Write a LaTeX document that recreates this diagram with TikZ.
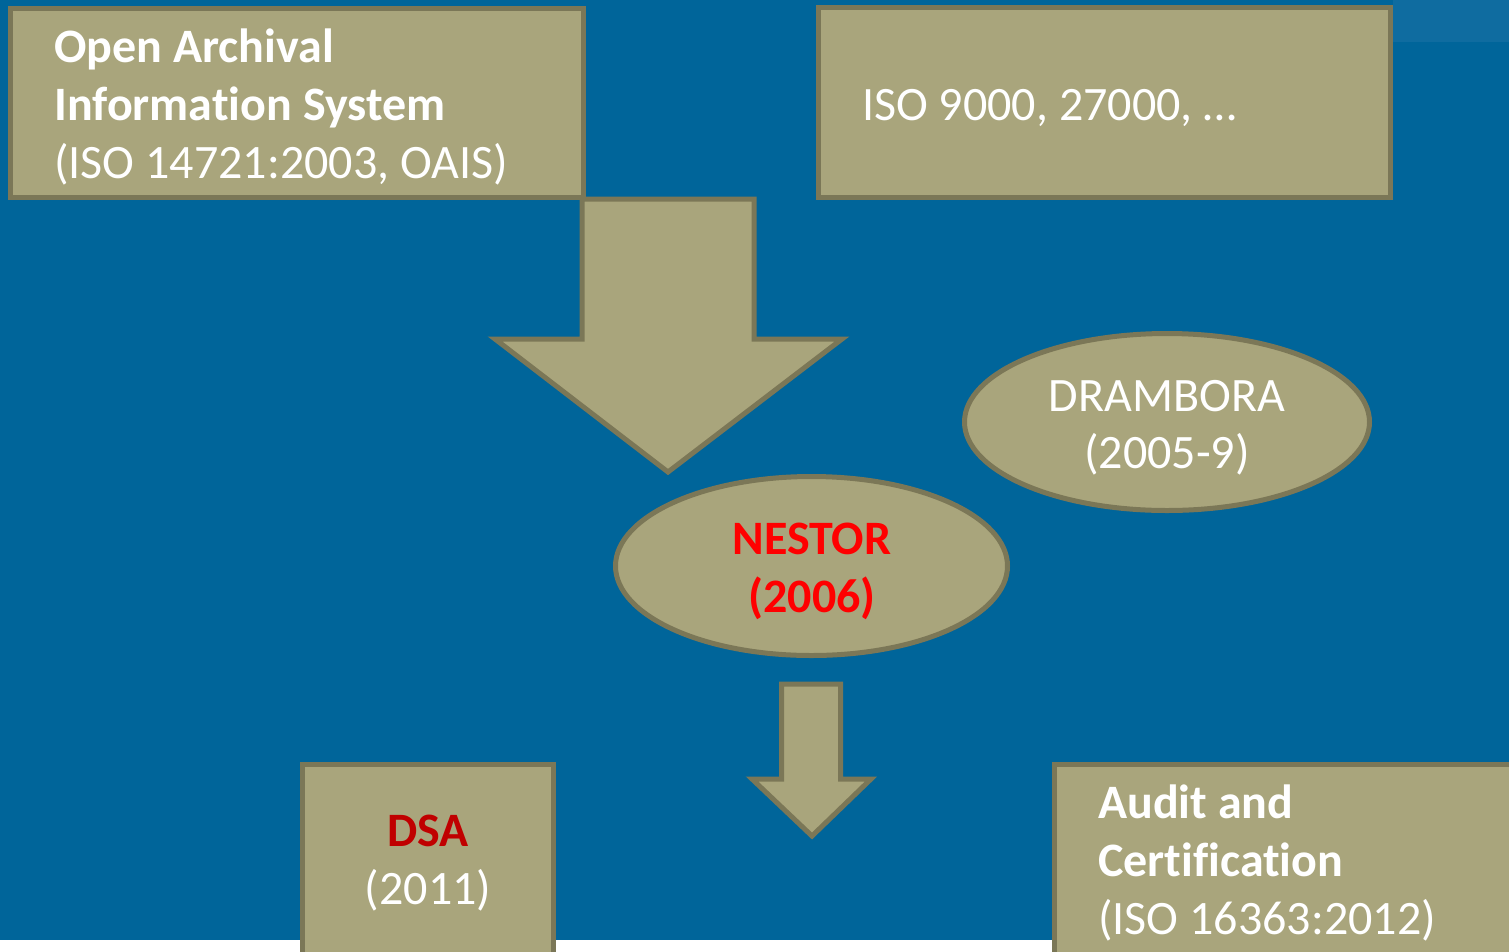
\documentclass[tikz,border=0pt]{standalone}
\usepackage{fontspec}
\setmainfont{Carlito}[Ligatures=CommonOff]
\usetikzlibrary{shapes.geometric}
\definecolor{bgblue}{HTML}{00659A}
\definecolor{bgstrip}{HTML}{0F6CA0}
\definecolor{boxfill}{HTML}{A9A57C}
\definecolor{boxline}{HTML}{7B7757}
\definecolor{nestorred}{HTML}{FF0000}
\definecolor{dsared}{HTML}{C00000}
\begin{document}
\begin{tikzpicture}[x=1pt,y=-1pt,
  blockshape/.style={fill=boxfill,draw=boxline,line width=5pt},
  boxnode/.style={blockshape,rectangle,inner sep=0pt,anchor=north west},
  txt/.style={text=white,font=\fontsize{48}{58}\selectfont,inner sep=0pt},
  txtb/.style={txt,font=\fontsize{48}{58}\selectfont\bfseries}]
\useasboundingbox (0,0) rectangle (1509,951);
\fill[white] (0,0) rectangle (1509,951);
\fill[bgblue] (0,0) rectangle (1509,940);
\fill[bgstrip] (1393,0) rectangle (1509,42);
% boxes
\node[boxnode,minimum width=573pt,minimum height=189pt] (oais) at (8,6) {};
\node[boxnode,minimum width=572pt,minimum height=190pt] (iso) at (816,5) {};
\node[boxnode,minimum width=251pt,minimum height=200pt] (dsa) at (300,762) {};
\node[boxnode,minimum width=470pt,minimum height=200pt] (audit) at (1052,762) {};
% big arrow
\draw[blockshape,line join=miter] (582,199) -- (754,199) -- (754,339) -- (842,339) -- (668,472) -- (495,339) -- (582,339) -- cycle;
% ellipses
\node[blockshape,ellipse,minimum width=405pt,minimum height=177pt,inner sep=0pt] (drambora) at (1167,422) {};
\node[blockshape,ellipse,minimum width=392pt,minimum height=179pt,inner sep=0pt] (nestor) at (811.5,566) {};
% small arrow
\draw[blockshape,line join=miter] (781.5,684) -- (840.5,684) -- (840.5,779) -- (871,779) -- (812,836) -- (752,779) -- (781.5,779) -- cycle;
% texts
\node[txtb,anchor=base west] (t1) at (54,62) {Open Archival};
\node[txtb,anchor=base west] (t2) at (54,120) {Information System};
\node[txt,anchor=base west] (t3) at (54,178) {(ISO 14721:2003, OAIS)};
\node[txt,anchor=base west] (t4) at (862,120) {ISO 9000, 27000, …};
\node[txt,anchor=base] (t5) at (1167,411) {DRAMBORA};
\node[txt,anchor=base] (t6) at (1167,468) {(2005-9)};
\node[txtb,anchor=base,text=nestorred] (t7) at (812,554) {NESTOR};
\node[txtb,anchor=base,text=nestorred] (t8) at (812,612) {(2006)};
\node[txtb,anchor=base,text=dsared] (t9) at (428,846) {DSA};
\node[txt,anchor=base] (t10) at (428,904) {(2011)};
\node[txtb,anchor=base west] (t11) at (1098,818) {Audit and};
\node[txtb,anchor=base west] (t12) at (1098,876) {Certification};
\node[txt,anchor=base west] (t13) at (1098,934) {(ISO 16363:2012)};
\end{tikzpicture}
\end{document}
